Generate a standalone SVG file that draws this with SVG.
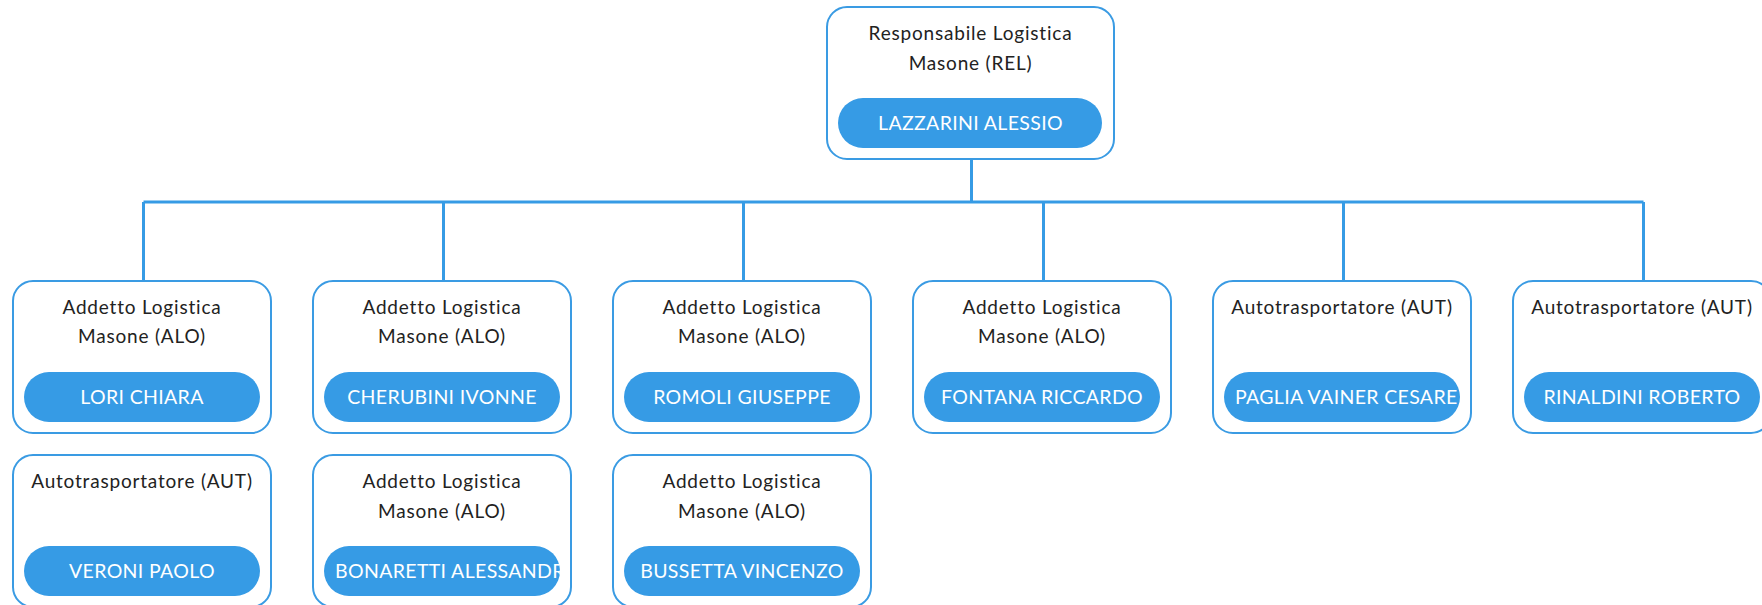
<svg xmlns="http://www.w3.org/2000/svg" width="1762" height="605" viewBox="0 0 1762 605">
<style>
.box{fill:#fff;stroke:#3a9be3;stroke-width:2}
.pill{fill:#369be5}
.t{font-family:Lato,"Open Sans",sans-serif;font-size:19px;letter-spacing:0.8px;fill:#222;text-anchor:middle}
.n{font-family:Lato,"Open Sans",sans-serif;font-size:19.5px;letter-spacing:0.35px;fill:#fff;text-anchor:middle}
.nl{font-family:Lato,"Open Sans",sans-serif;font-size:19.5px;letter-spacing:0.35px;fill:#fff}
.c{fill:none;stroke:#369be5;stroke-width:3}
</style>
<defs>
<clipPath id="cp1"><rect x="1224" y="372" width="236" height="50" rx="25"/></clipPath>
<clipPath id="cp2"><rect x="324" y="546" width="236" height="50" rx="25"/></clipPath>
</defs>
<g id="connectors">
<path class="c" d="M971.5 159V202M143.5 202H1643.5M143.5 202V281M443.5 202V281M743.5 202V281M1043.5 202V281M1343.5 202V281M1643.5 202V281"/>
</g>
<g id="rel">
<rect class="box" x="827" y="7" width="287" height="152" rx="20"/>
<text class="t" x="970.5" y="40">Responsabile Logistica</text>
<text class="t" x="970.5" y="70">Masone (REL)</text>
<rect class="pill" x="838" y="98" width="264" height="50" rx="25"/>
<text class="n" x="970.5" y="130">LAZZARINI ALESSIO</text>
</g>
<g id="lori">
<rect class="box" x="13" y="281" width="258" height="152" rx="20"/>
<text class="t" x="142" y="314">Addetto Logistica</text>
<text class="t" x="142" y="343">Masone (ALO)</text>
<rect class="pill" x="24" y="372" width="236" height="50" rx="25"/>
<text class="n" x="142" y="404">LORI CHIARA</text>
</g>
<g id="cherubini">
<rect class="box" x="313" y="281" width="258" height="152" rx="20"/>
<text class="t" x="442" y="314">Addetto Logistica</text>
<text class="t" x="442" y="343">Masone (ALO)</text>
<rect class="pill" x="324" y="372" width="236" height="50" rx="25"/>
<text class="n" x="442" y="404">CHERUBINI IVONNE</text>
</g>
<g id="romoli">
<rect class="box" x="613" y="281" width="258" height="152" rx="20"/>
<text class="t" x="742" y="314">Addetto Logistica</text>
<text class="t" x="742" y="343">Masone (ALO)</text>
<rect class="pill" x="624" y="372" width="236" height="50" rx="25"/>
<text class="n" x="742" y="404">ROMOLI GIUSEPPE</text>
</g>
<g id="fontana">
<rect class="box" x="913" y="281" width="258" height="152" rx="20"/>
<text class="t" x="1042" y="314">Addetto Logistica</text>
<text class="t" x="1042" y="343">Masone (ALO)</text>
<rect class="pill" x="924" y="372" width="236" height="50" rx="25"/>
<text class="n" x="1042" y="404">FONTANA RICCARDO</text>
</g>
<g id="paglia">
<rect class="box" x="1213" y="281" width="258" height="152" rx="20"/>
<text class="t" x="1342" y="314">Autotrasportatore (AUT)</text>
<rect class="pill" x="1224" y="372" width="236" height="50" rx="25"/>
<text class="nl" x="1235" y="404" clip-path="url(#cp1)">PAGLIA VAINER CESARE</text>
</g>
<g id="rinaldini">
<rect class="box" x="1513" y="281" width="258" height="152" rx="20"/>
<text class="t" x="1642" y="314">Autotrasportatore (AUT)</text>
<rect class="pill" x="1524" y="372" width="236" height="50" rx="25"/>
<text class="n" x="1642" y="404">RINALDINI ROBERTO</text>
</g>
<g id="veroni">
<rect class="box" x="13" y="455" width="258" height="152" rx="20"/>
<text class="t" x="142" y="488">Autotrasportatore (AUT)</text>
<rect class="pill" x="24" y="546" width="236" height="50" rx="25"/>
<text class="n" x="142" y="578">VERONI PAOLO</text>
</g>
<g id="bonaretti">
<rect class="box" x="313" y="455" width="258" height="152" rx="20"/>
<text class="t" x="442" y="488">Addetto Logistica</text>
<text class="t" x="442" y="518">Masone (ALO)</text>
<rect class="pill" x="324" y="546" width="236" height="50" rx="25"/>
<text class="nl" x="335" y="578" clip-path="url(#cp2)">BONARETTI ALESSANDRO</text>
</g>
<g id="bussetta">
<rect class="box" x="613" y="455" width="258" height="152" rx="20"/>
<text class="t" x="742" y="488">Addetto Logistica</text>
<text class="t" x="742" y="518">Masone (ALO)</text>
<rect class="pill" x="624" y="546" width="236" height="50" rx="25"/>
<text class="n" x="742" y="578">BUSSETTA VINCENZO</text>
</g>
</svg>
